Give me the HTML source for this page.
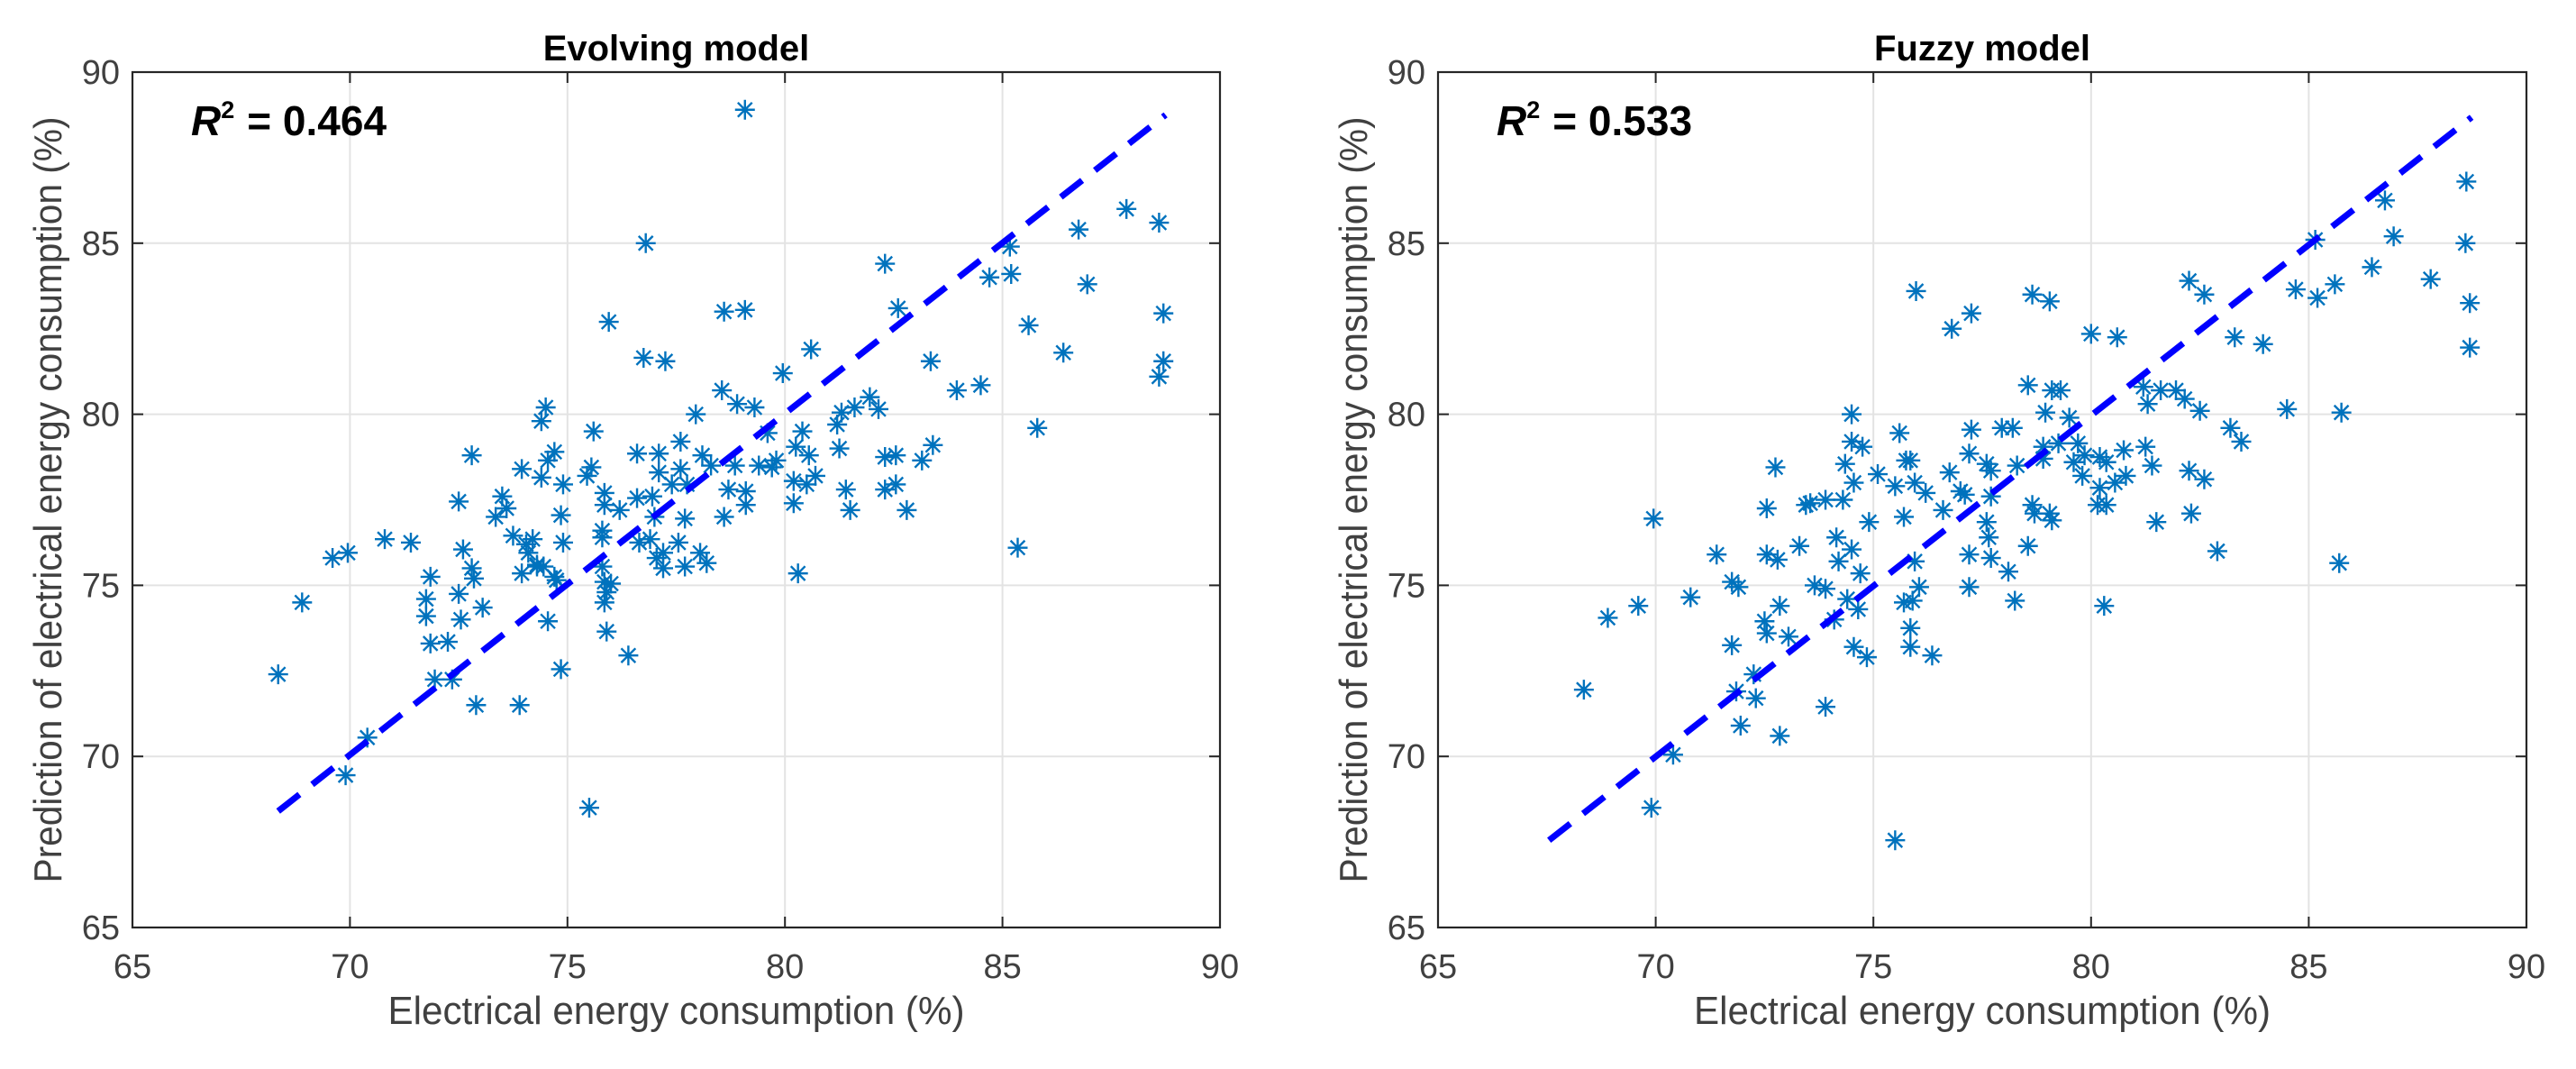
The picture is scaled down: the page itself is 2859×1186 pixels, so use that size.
<!DOCTYPE html>
<html><head><meta charset="utf-8"><style>
html,body{margin:0;padding:0;background:#fff;}
svg{display:block;font-family:"Liberation Sans",Arial,sans-serif;}
</style></head><body>
<svg id="fig" width="2859" height="1186" viewBox="0 0 2859 1186" xmlns="http://www.w3.org/2000/svg"></svg>
<script>
const ticks = [65,70,75,80,85,90];
const tickLabels = ["65","70","75","80","85","90"];
const titles = ["Evolving model","Fuzzy model"];
const r2Values = ["0.464","0.533"];
const ex = [79.08,76.8,87.85,88.6,86.75,85.17,82.3,84.7,85.2,86.95,78.6,79.08,82.6,88.7,75.95,85.6,80.6,86.4,76.75,77.25,83.35,88.7,88.6,79.95,83.95,84.5,78.55,77.95,78.9,79.3,74.5,74.4,81.95,81.6,82.15,81.3,81.2,85.8,75.6,79.6,80.4,77.6,83.4,80.25,81.25,72.8,74.7,76.6,77.1,78.1,80.55,82.3,82.55,83.15,74.55,73.95,75.55,75.45,74.4,77.1,77.6,78.3,78.85,79.4,79.8,79.7,80.7,80.2,80.5,82.55,82.3,81.4,74.9,77.4,77.75,78.7,79.1,75.85,73.5,76.95,76.6,72.5,75.85,80.2,79.1,76.2,81.5,82.8,73.6,73.35,74.85,78.6,77.7,77.0,70.8,71.4,73.75,74.05,74.2,74.9,75.8,75.8,76.65,76.9,77.55,72.6,69.6,69.95,77.2,78.05,78.2,74.1,74.3,73.95,74.3,74.45,77.05,77.2,77.7,75.8,72.8,72.85,71.85,80.3,75.85,76.0,74.7,74.75,75.9,72.5,71.75,75.85,68.9,71.75,73.05,72.55,74.55,75.9,71.85,72.25,76.4,74.85,68.35,71.95,72.35,72.9,73.9,70.4,69.9,75.5,85.35];
const ey = [88.9,85.0,86.0,85.6,85.4,84.9,84.4,84.0,84.1,83.8,83.0,83.05,83.1,82.95,82.7,82.6,81.9,81.8,81.65,81.55,81.55,81.55,81.1,81.2,80.7,80.85,80.7,80.0,80.3,80.2,80.2,79.8,80.5,80.2,80.15,80.05,79.7,79.6,79.5,79.45,79.5,79.2,79.1,79.05,79.0,78.8,78.9,78.85,78.85,78.8,78.8,78.75,78.8,78.65,78.65,78.4,78.45,78.2,78.15,78.3,78.4,78.5,78.5,78.5,78.65,78.45,78.2,78.05,77.95,77.95,77.8,77.8,77.95,77.95,77.95,77.8,77.75,77.7,77.6,77.6,77.55,77.45,77.35,77.4,77.35,77.2,77.2,77.2,77.25,77.0,77.05,77.0,76.95,77.0,76.35,76.25,76.45,76.2,76.35,76.25,76.6,76.4,76.25,76.35,76.25,76.05,75.8,75.95,75.95,75.95,75.65,75.95,75.6,75.35,75.55,75.55,75.8,75.5,75.55,75.55,75.5,75.2,75.25,75.35,75.1,75.05,75.25,75.15,74.8,74.75,74.6,74.5,74.5,74.1,74.35,74.0,73.95,73.65,73.3,73.35,72.95,72.55,72.4,72.25,72.25,71.5,71.5,70.55,69.45,68.5,76.1];
const fx = [88.62,86.75,86.95,88.6,85.15,86.45,87.8,82.25,84.7,85.6,85.2,82.6,78.65,79.05,75.98,88.7,77.25,76.8,80.0,80.6,83.3,83.95,88.7,78.55,79.1,79.3,81.2,81.6,81.95,82.15,81.3,82.5,84.5,85.75,74.5,78.95,79.5,77.95,78.2,77.25,83.2,75.6,83.45,74.5,74.75,79.25,78.9,81.25,80.75,79.7,77.2,75.75,75.85,78.9,79.6,79.85,80.2,80.35,74.35,77.6,77.7,78.3,72.75,76.75,81.4,82.25,82.6,80.8,79.8,75.1,74.55,75.5,75.95,80.2,80.55,76.2,77.0,77.1,77.7,73.9,74.3,73.55,73.45,72.55,80.15,80.35,78.65,76.6,78.7,79.05,79.1,82.3,81.5,75.7,74.9,77.6,69.95,74.15,77.65,73.3,78.55,74.5,71.4,72.55,72.8,74.2,75.95,77.7,77.2,82.9,85.7,78.1,74.7,71.75,71.9,73.65,73.9,77.2,76.05,75.9,75.7,78.25,80.3,70.8,74.4,69.6,72.85,74.65,68.9,72.5,72.55,73.05,74.1,75.85,71.75,74.55,75.85,76.35,74.85,72.25,71.85,72.3,68.35,73.9,71.95,72.85,70.4,69.9,75.5];
const fy = [86.8,86.25,85.2,85.0,85.1,84.3,83.95,83.9,83.65,83.8,83.4,83.5,83.5,83.3,83.6,83.25,82.95,82.5,82.35,82.25,82.25,82.05,81.95,80.85,80.7,80.7,80.8,80.7,80.7,80.45,80.3,80.1,80.15,80.05,80.0,80.05,79.9,79.6,79.6,79.55,79.6,79.45,79.2,79.2,79.05,79.15,79.05,79.05,78.95,79.15,78.85,78.65,78.65,78.7,78.6,78.8,78.75,78.6,78.55,78.55,78.35,78.5,78.45,78.3,78.5,78.35,78.1,78.2,78.2,78.25,78.0,77.9,78.0,77.85,78.0,77.7,77.75,77.65,77.6,77.5,77.5,77.4,77.35,77.25,77.35,77.35,77.35,77.2,77.1,77.1,76.9,77.1,76.85,77.0,76.85,76.85,76.95,76.4,76.4,76.15,76.15,76.05,75.9,75.9,75.75,75.7,75.7,75.8,75.9,76.0,75.65,75.4,75.35,75.1,74.95,75.0,74.9,74.95,74.95,74.55,74.5,74.55,74.4,74.65,74.6,74.4,74.4,74.3,74.05,73.95,73.6,73.5,74.0,73.75,73.25,73.2,73.2,72.95,72.9,72.4,71.9,71.7,71.95,71.45,70.9,70.6,70.05,68.5,67.55];
const fitLines = [[68.35,68.4,88.75,88.75],[67.55,67.55,88.74,88.68]];

const NS = "http://www.w3.org/2000/svg";
const svg = document.getElementById('fig');
function mk(tag, attrs, parent){const e=document.createElementNS(NS,tag);for(const k in attrs)e.setAttribute(k,attrs[k]);(parent||svg).appendChild(e);return e;}
const panels = [{L:147,R:1354,xs:ex,ys:ey},{L:1596,R:2804,xs:fx,ys:fy}];
const T=80,B=1029;
panels.forEach((p,i)=>{
  const g=mk('g',{});
  
  
  const sx=v=>p.L+(v-65)/25*(p.R-p.L);
  const sy=v=>B-(v-65)/25*(B-T);
  ticks.forEach((t,k)=>{
    if(k>0&&k<ticks.length-1){
      const gx=mk('line',{x1:sx(t),x2:sx(t),y1:T,y2:B,stroke:'#e3e3e3','stroke-width':2},g);
      
      
      const gy=mk('line',{x1:p.L,x2:p.R,y1:sy(t),y2:sy(t),stroke:'#e3e3e3','stroke-width':2},g);
      
      
    }
  });
  const mg=mk('g',{stroke:'#0072BD','stroke-width':2.4,fill:'none'},g);
  
  
  const r=11;
  p.xs.forEach((xv,k)=>{
    const cx=sx(xv),cy=sy(p.ys[k]);const d=r*0.72;
    const m=mk('path',{d:`M${cx-r},${cy}H${cx+r}M${cx},${cy-r}V${cy+r}M${cx-d},${cy-d}L${cx+d},${cy+d}M${cx-d},${cy+d}L${cx+d},${cy-d}`},mg);
    
    
  });
  const f=fitLines[i];
  const fl=mk('line',{x1:sx(f[0]),y1:sy(f[1]),x2:sx(f[2]),y2:sy(f[3]),stroke:'#0000ff','stroke-width':7,'stroke-dasharray':'30 18'},g);
  
  
  const box=mk('rect',{x:p.L,y:T,width:p.R-p.L,height:B-T,fill:'none',stroke:'#262626','stroke-width':2.2},g);
  
  
  ticks.forEach((t,k)=>{
    mk('line',{x1:sx(t),x2:sx(t),y1:B,y2:B-12,stroke:'#262626','stroke-width':2},g);
    mk('line',{x1:sx(t),x2:sx(t),y1:T,y2:T+12,stroke:'#262626','stroke-width':2},g);
    mk('line',{x1:p.L,x2:p.L+12,y1:sy(t),y2:sy(t),stroke:'#262626','stroke-width':2},g);
    mk('line',{x1:p.R,x2:p.R-12,y1:sy(t),y2:sy(t),stroke:'#262626','stroke-width':2},g);
    const xt=mk('text',{x:sx(t),y:1085,'text-anchor':'middle','font-size':38,fill:'#404040'},g);
    xt.textContent=tickLabels[k];
    
    
    const yt=mk('text',{x:p.L-14,y:sy(t)+13,'text-anchor':'end','font-size':38,fill:'#404040'},g);
    yt.textContent=tickLabels[k];
    
    
  });
  const xl=mk('text',{x:(p.L+p.R)/2,y:1136,'text-anchor':'middle','font-size':44,fill:'#404040',textLength:640,lengthAdjust:'spacingAndGlyphs'},g);
  xl.textContent='Electrical energy consumption (%)';
  
  
  const ylx=p.L-79;
  const yl=mk('text',{x:0,y:0,transform:`translate(${ylx},${(T+B)/2}) rotate(-90)`,'text-anchor':'middle','font-size':44,fill:'#404040',textLength:850,lengthAdjust:'spacingAndGlyphs'},g);
  yl.textContent='Prediction of electrical energy consumption (%)';
  
  
  const tt=mk('text',{x:(p.L+p.R)/2,y:67,'text-anchor':'middle','font-size':40,'font-weight':'bold',fill:'#000'},g);
  tt.textContent=titles[i];
  
  
  const rt=mk('text',{x:p.L+65,y:150,'font-size':46,'font-weight':'bold',fill:'#000'},g);
  
  
  const a=mk('tspan',{'font-style':'italic'},rt);a.textContent='R';
  const b=mk('tspan',{'font-size':27,dy:-19},rt);b.textContent='2';
  const c=mk('tspan',{dy:19,dx:14},rt);c.textContent='= '+r2Values[i];
});
</script>
</body></html>
